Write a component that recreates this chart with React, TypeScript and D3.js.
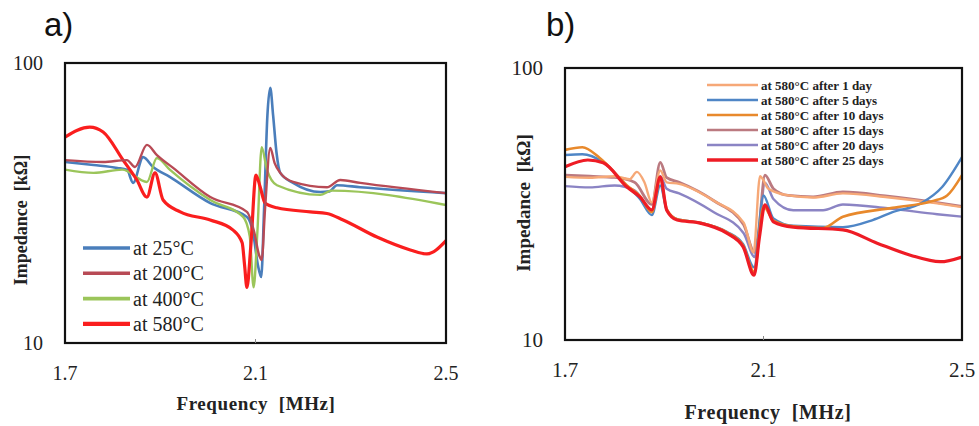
import React from "react";
import * as d3 from "d3";

type Pt = [number, number];

// ---------- Panel a : temperature series (x = MHz, y = kΩ) ----------
const aLabels = ["at 25°C", "at 200°C", "at 400°C", "at 580°C"];
const a25: Pt[] = [[1.70,44.3],[1.76,43.2],[1.81,42.2],[1.83,41.6],[1.843,37.3],[1.864,46.1],[1.885,42.5],[1.92,39.2],[2.005,31.6],[2.082,28.2],[2.095,24.7],[2.105,19],[2.112,17.2],[2.118,30],[2.125,65],[2.131,81.5],[2.137,65],[2.144,48],[2.152,40.5],[2.179,37.3],[2.236,34.6],[2.255,34.8],[2.271,36.6],[2.32,36],[2.5,34.3]];
const a200: Pt[] = [[1.70,45],[1.78,44.3],[1.83,45],[1.847,42.5],[1.872,51],[1.893,46.9],[1.927,42.2],[2.005,33.2],[2.082,29.4],[2.097,25],[2.108,20.5],[2.113,19.8],[2.12,30],[2.131,49.7],[2.14,44],[2.152,40.5],[2.179,37.6],[2.25,36],[2.278,38.2],[2.32,37.3],[2.5,34.3]];
const a400: Pt[] = [[1.70,41.6],[1.76,40.5],[1.82,41.6],[1.872,37.6],[1.893,45.8],[1.92,41.6],[2.005,32.4],[2.074,28.2],[2.088,24],[2.096,15.8],[2.104,25],[2.113,50],[2.124,41.6],[2.145,36.6],[2.236,33.8],[2.26,35],[2.5,31.1]];
const a580: Pt[] = [[1.70,54.4],[1.752,59],[1.78,56.7],[1.822,45],[1.851,38.2],[1.872,33.2],[1.889,40.5],[1.906,32.4],[1.942,29.4],[2.005,27.5],[2.053,25.3],[2.072,22.8],[2.077,19],[2.082,15.8],[2.09,22],[2.101,39.8],[2.11,36],[2.12,31.6],[2.145,30.4],[2.215,29.4],[2.25,29],[2.284,27.5],[2.355,23.9],[2.425,21.5],[2.46,20.8],[2.5,23.2]];

// ---------- Panel b : ageing series at 580°C ----------
const bLabels = ["at 580°C after 1 day", "at 580°C after 5 days", "at 580°C after 10 days", "at 580°C after 15 days", "at 580°C after 20 days", "at 580°C after 25 days"];
const b1: Pt[] = [[1.70,39.8],[1.75,39.5],[1.80,40],[1.83,39],[1.845,41.5],[1.86,38],[1.875,32],[1.892,42],[1.905,38],[1.93,37.5],[2.0,32.5],[2.06,27],[2.08,21],[2.093,40],[2.11,36],[2.15,34],[2.2,33.4],[2.26,34.6],[2.35,33.5],[2.45,31.8],[2.5,30.8]];
const b5: Pt[] = [[1.70,47.9],[1.735,48.2],[1.777,45],[1.825,36.8],[1.851,33],[1.875,28.8],[1.892,37],[1.905,30],[1.926,27.8],[1.972,27],[2.026,25],[2.059,22.5],[2.081,18.5],[2.1,34],[2.12,28],[2.16,26.3],[2.26,26],[2.32,27.6],[2.36,29.5],[2.42,32],[2.46,36.5],[2.5,47]];
const b10: Pt[] = [[1.70,50],[1.735,51.1],[1.77,46.7],[1.825,37],[1.851,33.8],[1.875,29.5],[1.892,39],[1.905,30.3],[1.926,27.8],[1.972,27],[2.026,24.9],[2.059,22.2],[2.081,17.8],[2.1,31],[2.12,27.5],[2.16,26.2],[2.22,25.8],[2.26,28.4],[2.36,30.6],[2.44,32.4],[2.47,34],[2.5,40.4]];
const b15: Pt[] = [[1.70,40.4],[1.75,40],[1.80,39.6],[1.84,38],[1.875,31.5],[1.892,45],[1.905,39.5],[1.93,38],[2.0,32.5],[2.06,26.5],[2.082,21],[2.09,25],[2.103,40.4],[2.12,36],[2.15,34],[2.2,33.6],[2.26,35],[2.35,33.8],[2.45,32],[2.5,31]];
const b20: Pt[] = [[1.70,36.8],[1.75,36.4],[1.80,37],[1.84,35.5],[1.875,30],[1.892,40],[1.905,36],[1.93,34.6],[2.0,29.5],[2.06,24.7],[2.082,20.2],[2.09,24],[2.103,37.8],[2.12,33],[2.16,30],[2.22,30],[2.26,31.5],[2.35,30.5],[2.45,29],[2.5,28.4]];
const b25: Pt[] = [[1.70,43.3],[1.746,45.9],[1.777,44.8],[1.825,36.5],[1.851,33.6],[1.875,30.1],[1.892,39.8],[1.905,30],[1.926,27.6],[1.972,26.9],[2.026,24.7],[2.059,22],[2.081,17.3],[2.092,24],[2.103,31.4],[2.12,27.2],[2.16,26],[2.26,25.4],[2.329,22.7],[2.396,20.5],[2.456,19.4],[2.5,20.2]];

const xTicks = [1.7, 2.1, 2.5];
const yTicks = [10, 100];

const aColors = ["#4a7ebb", "#b84a55", "#9bc55a", "#fa1e1e"];
const bColors = ["#f6a877", "#4f86c6", "#e8892c", "#bb7a80", "#8b84c4", "#ee1c25"];

type PanelProps = {
  id: string;
  letter: string;
  letterX: number;
  box: { x0: number; x1: number; y0: number; y1: number };
  series: Pt[][];
  colors: string[];
  widths: number[];
  drawOrder: number[];
  labels: string[];
  legend: { lx0: number; lx1: number; tx: number; y0: number; dy: number; font: number; bold: boolean; lw: number };
  yLabX: number;
  yLab: { x: number; y: number; size: number };
  xLab: { x: number; y: number; size: number };
  xTickY: number;
  tickFont: number;
};

function Panel(p: PanelProps) {
  const { box } = p;
  const x = d3.scaleLinear().domain([1.7, 2.5]).range([box.x0, box.x1]);
  const y = d3.scaleLog().domain([10, 100]).range([box.y1, box.y0]);
  const line = d3
    .line<Pt>()
    .x((d) => x(d[0]))
    .y((d) => y(d[1]))
    .curve(d3.curveMonotoneX);
  const serif = "'Liberation Serif', 'Times New Roman', serif";
  return (
    <g>
      <defs>
        <clipPath id={"clip-" + p.id}>
          <rect x={box.x0} y={box.y0} width={box.x1 - box.x0} height={box.y1 - box.y0} />
        </clipPath>
      </defs>
      <text x={p.letterX} y={36} fontFamily="'Liberation Sans', Arial, sans-serif" fontSize={33} fill="#111">
        {p.letter}
      </text>
      <rect x={box.x0} y={box.y0} width={box.x1 - box.x0} height={box.y1 - box.y0} fill="#fff" />
      <g clipPath={`url(#clip-${p.id})`}>
        {p.drawOrder.map((i) => (
          <path key={i} d={line(p.series[i]) || ""} fill="none" stroke={p.colors[i]} strokeWidth={p.widths[i]} strokeLinejoin="round" strokeLinecap="round" />
        ))}
      </g>
      <rect x={box.x0} y={box.y0} width={box.x1 - box.x0} height={box.y1 - box.y0} fill="none" stroke="#111" strokeWidth={2.2} />
      {yTicks.map((t) => (
        <text key={t} x={p.yLabX} y={y(t)} dy="0.35em" textAnchor="end" fontFamily={serif} fontSize={p.tickFont} fill="#222">
          {t}
        </text>
      ))}
      {xTicks.map((t) => (
        <text key={t} x={x(t)} y={p.xTickY} dy="0.35em" textAnchor="middle" fontFamily={serif} fontSize={p.tickFont} fill="#222">
          {t.toFixed(1)}
        </text>
      ))}
      <line x1={x(2.1)} x2={x(2.1)} y1={box.y1 - 4} y2={box.y1} stroke="#888" strokeWidth={1} />
      <text x={p.xLab.x} y={p.xLab.y} dy="0.35em" textAnchor="middle" fontFamily={serif} fontWeight="bold" fontSize={p.xLab.size} letterSpacing={0.6} fill="#222" style={{ whiteSpace: "pre" }}>
        {"Frequency  [MHz]"}
      </text>
      <text transform={`translate(${p.yLab.x},${p.yLab.y}) rotate(-90)`} dy="0.35em" textAnchor="middle" fontFamily={serif} fontWeight="bold" fontSize={p.yLab.size} fill="#222" style={{ whiteSpace: "pre" }}>
        {"Impedance  [kΩ]"}
      </text>
      {p.labels.map((lab, i) => {
        const yy = p.legend.y0 + i * p.legend.dy;
        return (
          <g key={lab}>
            <line x1={p.legend.lx0} x2={p.legend.lx1} y1={yy} y2={yy} stroke={p.colors[i]} strokeWidth={p.legend.lw + (i === p.labels.length - 1 ? 0.8 : 0)} />
            <text x={p.legend.tx} y={yy} dy="0.35em" fontFamily={serif} fontWeight={p.legend.bold ? "bold" : "normal"} fontSize={p.legend.font} fill="#222">
              {lab}
            </text>
          </g>
        );
      })}
    </g>
  );
}

export default function App() {
  return (
    <svg width={979} height={426} style={{ position: "absolute", left: 0, top: 0, background: "#fff" }}>
      <rect width={979} height={426} fill="#fff" />
      <Panel
        id="a"
        letter="a)"
        letterX={44}
        box={{ x0: 65, x1: 446, y0: 63, y1: 343 }}
        series={[a25, a200, a400, a580]}
        colors={aColors}
        widths={[2.6, 2.4, 2.4, 3.2]}
        drawOrder={[0, 2, 3, 1]}
        labels={aLabels}
        legend={{ lx0: 83, lx1: 130, tx: 133, y0: 248, dy: 25.3, font: 20, bold: false, lw: 3.6 }}
        yLabX={43}
        yLab={{ x: 21, y: 220, size: 18 }}
        xLab={{ x: 256, y: 403, size: 19 }}
        xTickY={373}
        tickFont={20}
      />
      <Panel
        id="b"
        letter="b)"
        letterX={546}
        box={{ x0: 565, x1: 962, y0: 68, y1: 340 }}
        series={[b1, b5, b10, b15, b20, b25]}
        colors={bColors}
        widths={[2.4, 2.4, 2.6, 2.8, 2.4, 3.2]}
        drawOrder={[4, 3, 0, 1, 2, 5]}
        labels={bLabels}
        legend={{ lx0: 707, lx1: 758, tx: 761, y0: 85, dy: 15, font: 13, bold: true, lw: 2.6 }}
        yLabX={543}
        yLab={{ x: 523, y: 203, size: 19 }}
        xLab={{ x: 768, y: 412, size: 20 }}
        xTickY={370}
        tickFont={21}
      />
    </svg>
  );
}
